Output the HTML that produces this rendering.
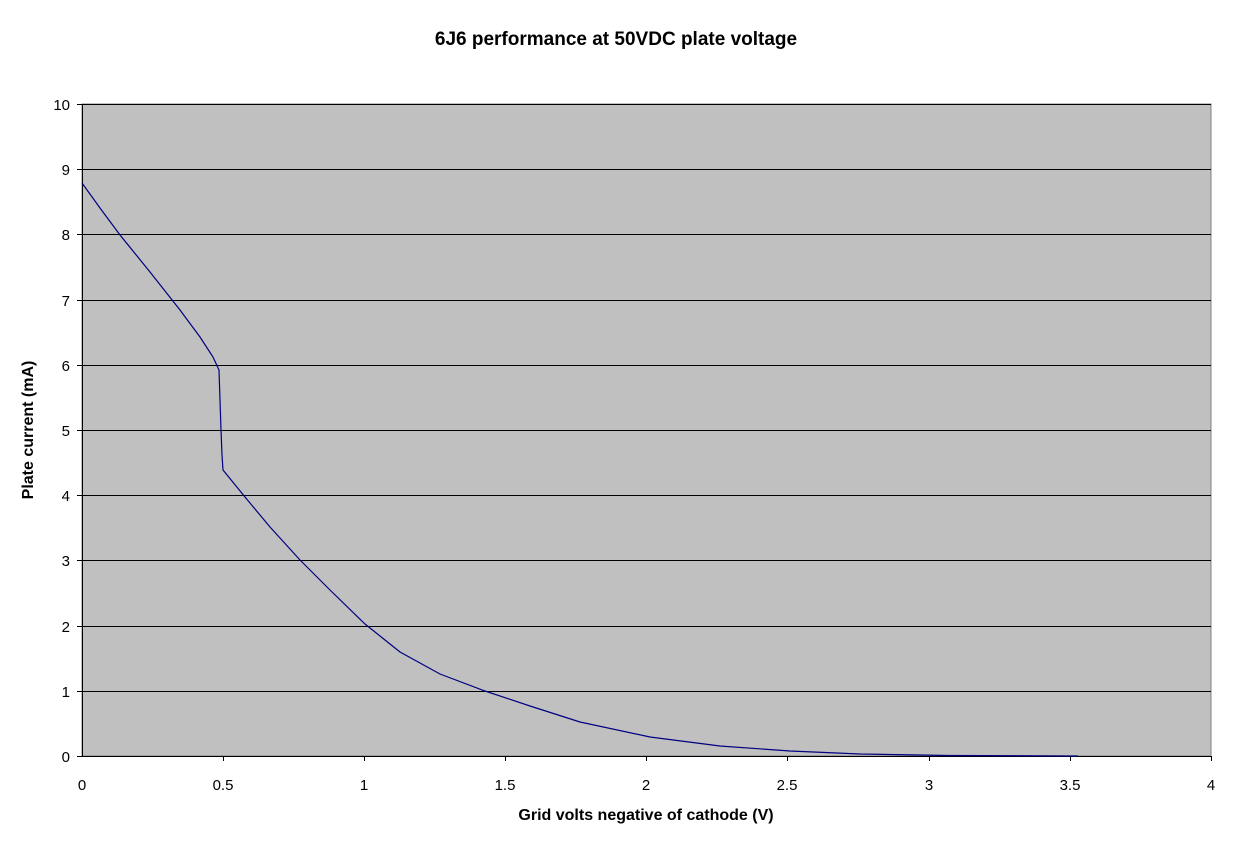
<!DOCTYPE html>
<html><head><style>
body{margin:0;background:#fff;}
svg text{font-family:"Liberation Sans",Arial,sans-serif;}
</style></head><body>
<svg width="1233" height="837" xmlns="http://www.w3.org/2000/svg">
<rect width="1233" height="837" fill="#fff"/>
<text x="616" y="45" text-anchor="middle" font-size="19" font-weight="bold">6J6 performance at 50VDC plate voltage</text>
<rect x="82" y="104" width="1129" height="652" fill="#c0c0c0" stroke="#808080"/>
<g stroke="#000" stroke-width="1">
<line x1="82" y1="104.5" x2="1211" y2="104.5"/>
<line x1="82" y1="169.5" x2="1211" y2="169.5"/>
<line x1="82" y1="234.5" x2="1211" y2="234.5"/>
<line x1="82" y1="300.5" x2="1211" y2="300.5"/>
<line x1="82" y1="365.5" x2="1211" y2="365.5"/>
<line x1="82" y1="430.5" x2="1211" y2="430.5"/>
<line x1="82" y1="495.5" x2="1211" y2="495.5"/>
<line x1="82" y1="560.5" x2="1211" y2="560.5"/>
<line x1="82" y1="626.5" x2="1211" y2="626.5"/>
<line x1="82" y1="691.5" x2="1211" y2="691.5"/>
<line x1="82" y1="756.5" x2="1211" y2="756.5"/>
<line x1="82.5" y1="104" x2="82.5" y2="756"/>
</g>
<g stroke="#000">
<line x1="77" y1="104.5" x2="82" y2="104.5"/><line x1="77" y1="169.5" x2="82" y2="169.5"/><line x1="77" y1="234.5" x2="82" y2="234.5"/><line x1="77" y1="300.5" x2="82" y2="300.5"/><line x1="77" y1="365.5" x2="82" y2="365.5"/><line x1="77" y1="430.5" x2="82" y2="430.5"/><line x1="77" y1="495.5" x2="82" y2="495.5"/><line x1="77" y1="560.5" x2="82" y2="560.5"/><line x1="77" y1="626.5" x2="82" y2="626.5"/><line x1="77" y1="691.5" x2="82" y2="691.5"/><line x1="77" y1="756.5" x2="82" y2="756.5"/>
<line x1="223.5" y1="756" x2="223.5" y2="761"/><line x1="364.5" y1="756" x2="364.5" y2="761"/><line x1="505.5" y1="756" x2="505.5" y2="761"/><line x1="646.5" y1="756" x2="646.5" y2="761"/><line x1="787.5" y1="756" x2="787.5" y2="761"/><line x1="929.5" y1="756" x2="929.5" y2="761"/><line x1="1070.5" y1="756" x2="1070.5" y2="761"/><line x1="1211.5" y1="756" x2="1211.5" y2="761"/>
</g>
<g font-size="15" text-anchor="end">
<text x="70" y="110">10</text><text x="70" y="175">9</text><text x="70" y="240">8</text><text x="70" y="306">7</text><text x="70" y="371">6</text><text x="70" y="436">5</text><text x="70" y="501">4</text><text x="70" y="566">3</text><text x="70" y="632">2</text><text x="70" y="697">1</text><text x="70" y="762">0</text>
</g>
<g font-size="15" text-anchor="middle">
<text x="82" y="790">0</text><text x="223" y="790">0.5</text><text x="364" y="790">1</text><text x="505" y="790">1.5</text><text x="646" y="790">2</text><text x="787" y="790">2.5</text><text x="929" y="790">3</text><text x="1070" y="790">3.5</text><text x="1211" y="790">4</text>
</g>
<text x="646" y="820" text-anchor="middle" font-size="16" font-weight="bold">Grid volts negative of cathode (V)</text>
<text transform="translate(33,430) rotate(-90)" text-anchor="middle" font-size="16" font-weight="bold">Plate current (mA)</text>
<polyline fill="none" stroke="#000080" stroke-width="1.2" points="82,183 100,208 120,235 150,272 180,310 200,337 213,357 219,370 220,400 221,430 222,455 223,470 245,497 270,527 300,560 330,590 365,624 400,652 440,674 485,691 530,706 580,722 650,737 720,746 790,751 860,754 950,755.5 1078,756"/>
</svg>
</body></html>
